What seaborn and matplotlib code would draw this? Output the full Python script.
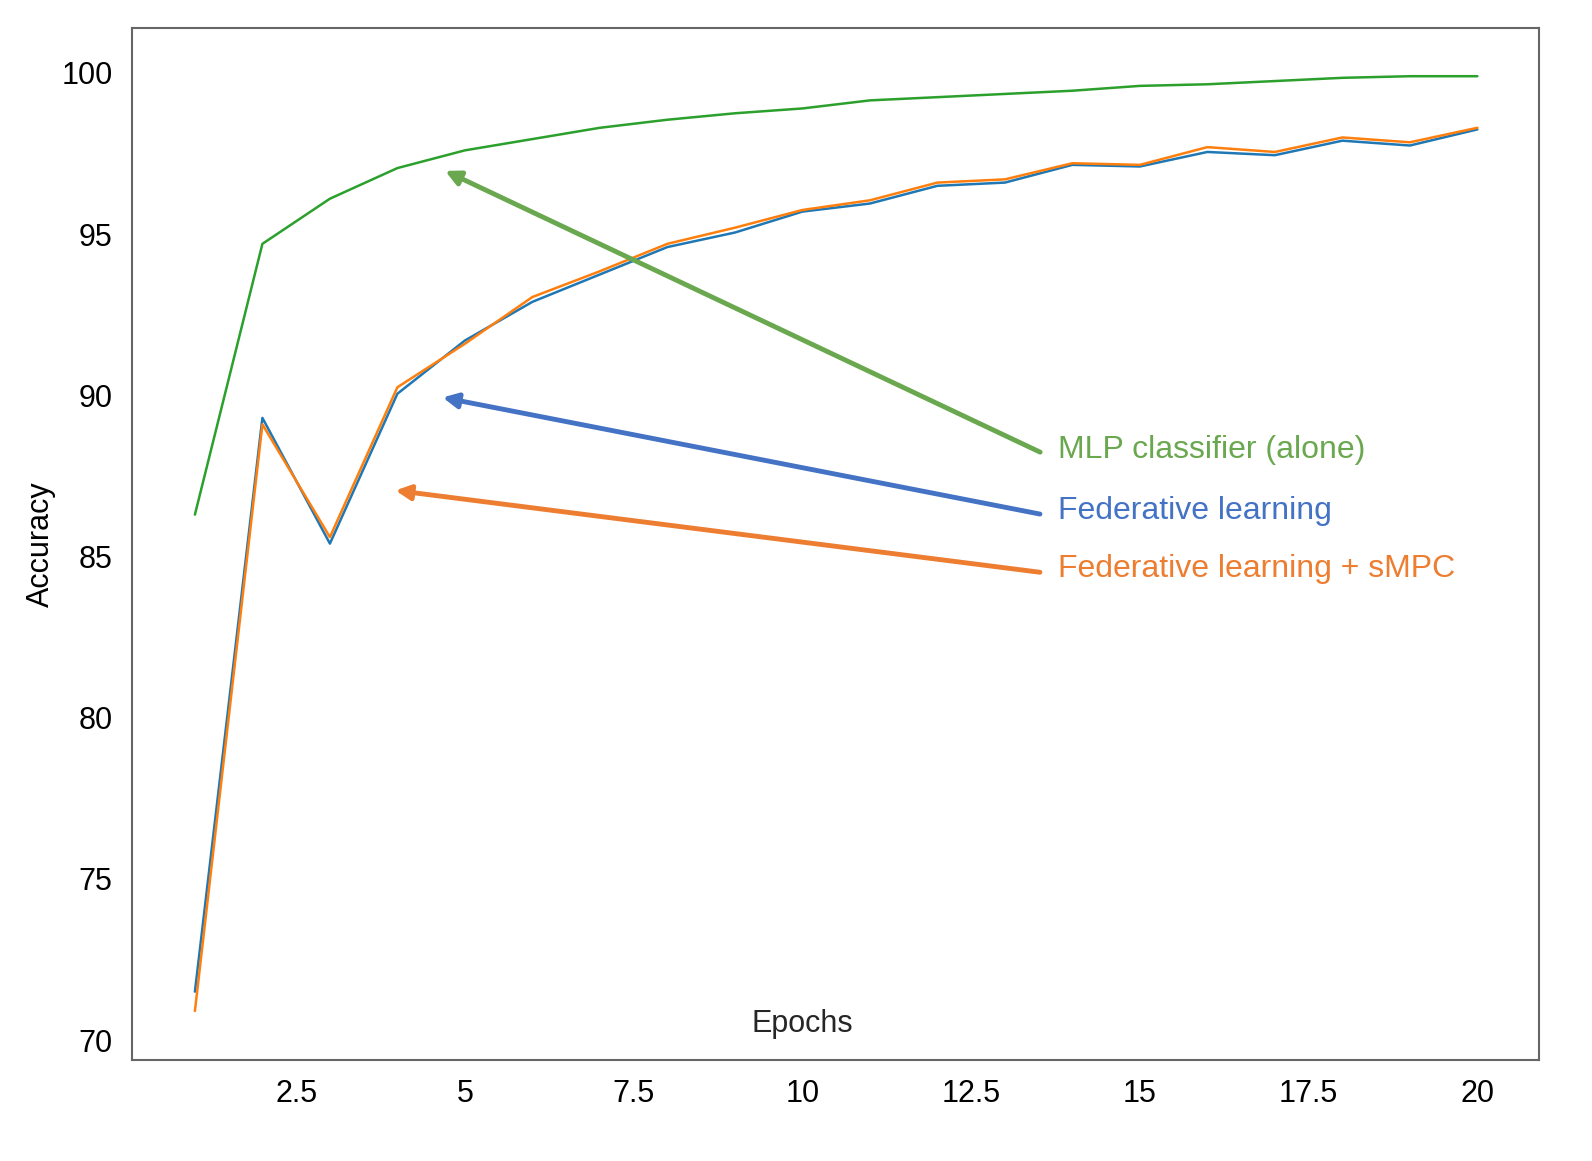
import matplotlib
matplotlib.use("Agg")
import matplotlib.pyplot as plt
import pandas as pd
import seaborn as sns

epochs = list(range(1, 21))
mlp_alone = [86.3, 94.7, 96.1, 97.05, 97.6, 97.95, 98.3, 98.55, 98.75, 98.9,
             99.15, 99.25, 99.35, 99.45, 99.6, 99.65, 99.75, 99.85, 99.9, 99.9]
federative = [71.5, 89.3, 85.4, 90.05, 91.7, 92.9, 93.75, 94.6, 95.05, 95.7,
              95.95, 96.5, 96.6, 97.15, 97.1, 97.55, 97.45, 97.9, 97.75, 98.25]
federative_smpc = [70.9, 89.1, 85.6, 90.25, 91.6, 93.05, 93.85, 94.7, 95.2, 95.75,
                   96.05, 96.6, 96.7, 97.2, 97.15, 97.7, 97.55, 98.0, 97.85, 98.3]
x_ticks = [2.5, 5, 7.5, 10, 12.5, 15, 17.5, 20]
y_ticks = [70, 75, 80, 85, 90, 95, 100]

sns.set_style("white")
plt.rcParams["font.family"] = ["Liberation Sans", "DejaVu Sans"]

fig, ax = plt.subplots(figsize=(15.92, 11.61), dpi=100)
fig.subplots_adjust(left=0.083, right=0.967, top=0.976, bottom=0.087)

sns.lineplot(x=epochs, y=mlp_alone, ax=ax, color="#2ca02c", lw=1.8)
sns.lineplot(x=epochs, y=federative, ax=ax, color="#1f77b4", lw=1.8)
sns.lineplot(x=epochs, y=federative_smpc, ax=ax, color="#ff7f0e", lw=1.8)

ax.set_xlim(0.07, 20.92)
ax.set_ylim(69.38, 101.4)
ax.set_xticks(x_ticks)
ax.set_xticklabels([f"{t:g}" for t in x_ticks])
ax.set_yticks(y_ticks)
ax.tick_params(labelsize=22, length=0, pad=14, labelcolor="black")
for s in ax.spines.values():
    s.set_color("#666666")
    s.set_linewidth(1.5)

ax.set_ylabel("Accuracy", fontsize=22, color="black")
ax.text(10.0, 70.5, "Epochs", fontsize=22, ha="center", va="center")

notes = [
    ("MLP classifier (alone)", (4.67, 97.0), (13.56, 88.2), "#6aa84f"),
    ("Federative learning", (4.63, 89.95), (13.56, 86.3), "#4472c4"),
    ("Federative learning + sMPC", (3.93, 87.06), (13.56, 84.5), "#ed7d31"),
]
for label, tip, start, col in notes:
    ax.annotate("", xy=tip, xytext=start,
                arrowprops=dict(arrowstyle="-|>", color=col, lw=3.5,
                                mutation_scale=22))
    ax.text(start[0] + 0.22, start[1] + 0.1, label, color=col, fontsize=23,
            va="center", ha="left")

fig.savefig("out.png", dpi=100)
